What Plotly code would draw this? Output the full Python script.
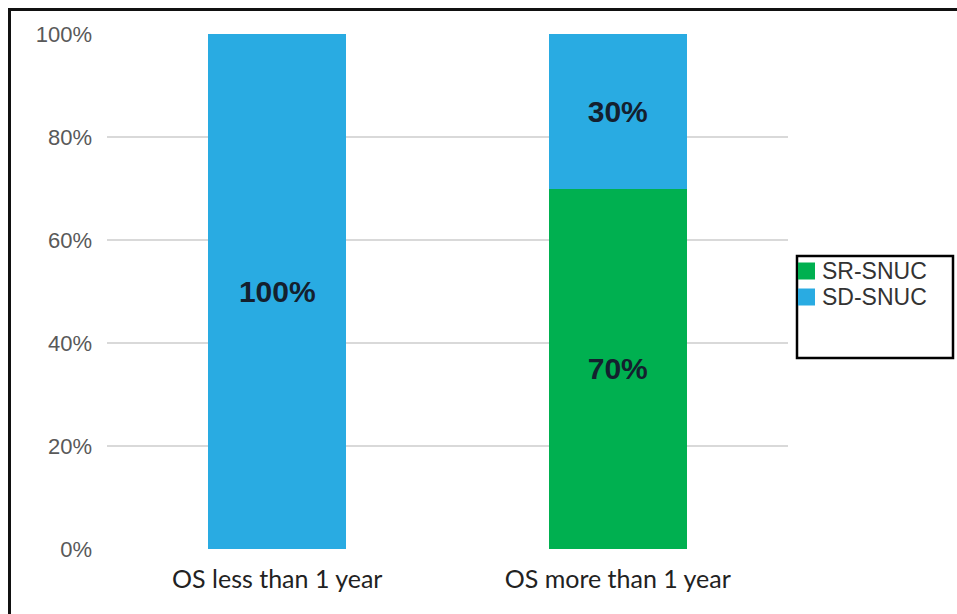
import plotly.graph_objects as go

categories = ["OS less than 1 year", "OS more than 1 year"]
series_names = ["SR-SNUC", "SD-SNUC"]
sr_snuc = [0, 70]
sd_snuc = [100, 30]
series_colors = ["#00b050", "#29abe2"]
y_ticks = [0, 20, 40, 60, 80, 100]
y_tick_labels = ["0%", "20%", "40%", "60%", "80%", "100%"]

W, H = 957, 614
L, R, T, B = 107, 169, 34, 65
PW, PH = W - L - R, H - T - B


def px_x(x):
    return (x - L) / PW


def px_y(y):
    return (H - B - y) / PH


def pct_labels(vals):
    return [f"{v}%" if v else "" for v in vals]


label_font = dict(family="Liberation Sans, Arial, sans-serif", size=30,
                  color="#14202e", weight="bold")

fig = go.Figure()
for name, vals, color in zip(series_names, [sr_snuc, sd_snuc], series_colors):
    fig.add_trace(go.Bar(
        name=name, x=categories, y=vals, marker_color=color,
        text=pct_labels(vals), textposition="inside", insidetextanchor="middle",
        textfont=label_font, width=0.405, marker_line_width=0,
        showlegend=False,
    ))

# legend drawn by hand: coloured squares with names, inside a framed box
shapes = [
    dict(type="rect", xref="paper", yref="paper",
         x0=px_x(797), x1=px_x(953), y0=px_y(358), y1=px_y(256),
         line=dict(color="black", width=2.5), fillcolor="rgba(0,0,0,0)"),
    # outer frame (top and left edges)
    dict(type="line", xref="paper", yref="paper",
         x0=px_x(8), x1=px_x(957), y0=px_y(9.5), y1=px_y(9.5),
         line=dict(color="#111111", width=3)),
    dict(type="line", xref="paper", yref="paper",
         x0=px_x(9.5), x1=px_x(9.5), y0=px_y(8), y1=px_y(614),
         line=dict(color="#111111", width=3)),
]
annotations = []
for i, (name, color) in enumerate(zip(series_names, series_colors)):
    cy = 271 + 26 * i
    shapes.append(dict(type="rect", xref="paper", yref="paper",
                       x0=px_x(798), x1=px_x(815), y0=px_y(cy + 8.5), y1=px_y(cy - 8.5),
                       line=dict(width=0), fillcolor=color))
    annotations.append(dict(xref="paper", yref="paper", x=px_x(820), y=px_y(cy),
                            xanchor="left", yanchor="middle", showarrow=False, text=name,
                            font=dict(family="Liberation Sans, Arial, sans-serif",
                                      size=23, color="#333333")))

fig.update_layout(
    width=W, height=H,
    margin=dict(l=L, r=R, t=T, b=B),
    barmode="stack",
    plot_bgcolor="white", paper_bgcolor="white",
    showlegend=False,
    xaxis=dict(
        tickfont=dict(family="Lato, sans-serif", size=25, color="#222222"),
        showgrid=False, showline=False, ticks="", ticklabelstandoff=13,
    ),
    yaxis=dict(
        range=[0, 100], tickvals=y_ticks, ticktext=y_tick_labels,
        tickfont=dict(family="Liberation Sans, Arial, sans-serif", size=22, color="#595959"),
        showgrid=True, gridcolor="#d9d9d9", gridwidth=2,
        zeroline=True, zerolinecolor="white", zerolinewidth=2,
        showline=False, ticks="", ticklabelstandoff=14,
    ),
    shapes=shapes,
    annotations=annotations,
)

fig.write_html("out.html")
